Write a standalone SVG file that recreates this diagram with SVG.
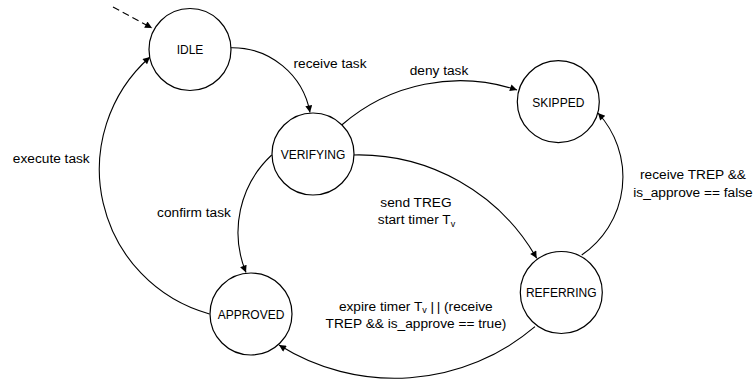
<svg xmlns="http://www.w3.org/2000/svg" width="755" height="381" viewBox="0 0 755 381">
  <style>
    .state circle { fill: #ffffff; stroke: #000000; stroke-width: 1.2; }
    .state text { font-family: "Liberation Sans", Arial, sans-serif; font-size: 12px; fill: #000000; text-anchor: middle; }
    .edge { fill: none; stroke: #000000; stroke-width: 1.1; marker-end: url(#arrow); }
    .initial { stroke-dasharray: 7 4; }
    .label { font-family: "Liberation Sans", Arial, sans-serif; font-size: 13.7px; fill: #000000; text-anchor: middle; }
    .sub { font-size: 9px; }
    .bar { letter-spacing: 2.5px; }
  </style>
  <defs>
    <marker id="arrow" viewBox="0 0 10 10" refX="10" refY="5" markerWidth="9" markerHeight="7" markerUnits="userSpaceOnUse" orient="auto">
      <path d="M0,0 L10,5 L0,10 z" fill="#000000"/>
    </marker>
  </defs>

  <!-- transitions -->
  <g id="connectors">
    <path class="edge initial" d="M113,7 L152,28"/>
    <path class="edge" d="M231,47.7 A79 79 0 0 1 310,112.5"/>
    <path class="edge" d="M341.7,125 A180 180 0 0 1 517,90"/>
    <path class="edge" d="M353.3,155 A205 205 0 0 1 536.7,258.3"/>
    <path class="edge" d="M581.7,255 A94.5 94.5 0 0 0 598,113"/>
    <path class="edge" d="M271.7,155 A105.5 105.5 0 0 0 246,272.5"/>
    <path class="edge" d="M535,326.7 A217 217 0 0 1 279,345"/>
    <path class="edge" d="M209.5,314 A150 150 0 0 1 150,57"/>
  </g>

  <!-- transition labels -->
  <g id="labels">
    <text class="label" x="330" y="68">receive task</text>
    <text class="label" x="439" y="74.5">deny task</text>
    <text class="label" x="693" y="178.7">receive TREP &amp;&amp;</text>
    <text class="label" x="693" y="196.5">is_approve == false</text>
    <text class="label" x="416" y="206.7">send TREG</text>
    <text class="label" x="416.5" y="224.3">start timer T<tspan class="sub" dy="2.5">v</tspan></text>
    <text class="label" x="51.3" y="163">execute task</text>
    <text class="label" x="194" y="216.5">confirm task</text>
    <text class="label" x="415.8" y="310.7">expire timer T<tspan class="sub" dy="2.5">v</tspan><tspan dy="-2.5"> </tspan><tspan class="bar">|</tspan>| (receive</text>
    <text class="label" x="416" y="328.3">TREP &amp;&amp; is_approve == true)</text>
  </g>

  <!-- states -->
  <g id="idle" class="state">
    <circle cx="190" cy="49.5" r="41"/>
    <text x="190" y="53.8">IDLE</text>
  </g>
  <g id="verifying" class="state">
    <circle cx="313" cy="154" r="41"/>
    <text x="313" y="159">VERIFYING</text>
  </g>
  <g id="skipped" class="state">
    <circle cx="558.3" cy="101.7" r="41"/>
    <text x="558.3" y="107">SKIPPED</text>
  </g>
  <g id="approved" class="state">
    <circle cx="251" cy="314" r="41"/>
    <text x="251" y="319">APPROVED</text>
  </g>
  <g id="referring" class="state">
    <circle cx="561.3" cy="292.5" r="41"/>
    <text x="561.3" y="296.7">REFERRING</text>
  </g>
</svg>
